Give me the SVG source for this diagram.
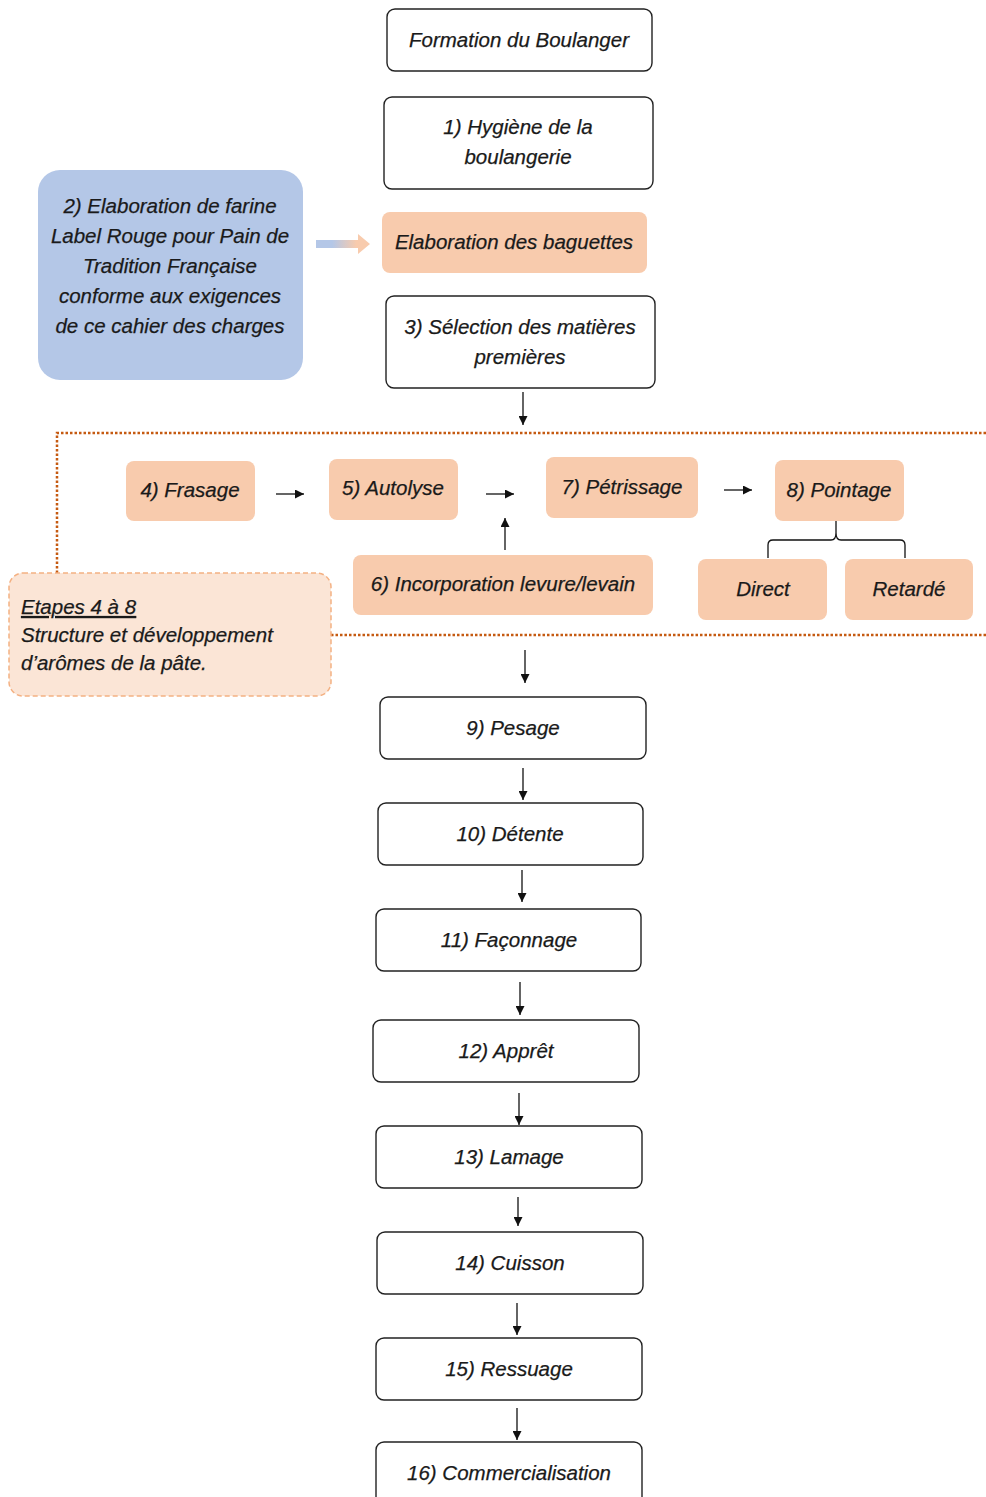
<svg xmlns="http://www.w3.org/2000/svg" width="986" height="1497" viewBox="0 0 986 1497">
<defs>
<style>
.t{font-family:"Liberation Sans",Arial,sans-serif;font-style:italic;font-size:20.5px;fill:#1a1a1a;text-anchor:middle;stroke:#1a1a1a;stroke-width:0.25}
.w{fill:#fff;stroke:#222;stroke-width:1.4}
.o{fill:#f8cbad;stroke:none}
.c{stroke:#111;stroke-width:1.3;fill:none}
.d{stroke:#c55a11;stroke-width:2.5;stroke-dasharray:2.5 2;fill:none}
</style>
<marker id="ah" viewBox="0 0 10 10" refX="10" refY="5" markerWidth="9" markerHeight="9" markerUnits="userSpaceOnUse" orient="auto"><path d="M0,0 L10,5 L0,10 z" fill="#111"/></marker>
<linearGradient id="g" x1="0" x2="1" y1="0" y2="0"><stop offset="0.3" stop-color="#b4c7e7"/><stop offset="0.75" stop-color="#f8cbad"/></linearGradient>
</defs>
<rect width="986" height="1497" fill="#fff"/>

<g id="frame">
<path class="d" d="M57,573 V433 H986"/>
<path class="d" d="M331,635 H986"/>
</g>

<g id="n0"><rect class="w" x="387" y="9" width="265" height="62" rx="8"/><text class="t" x="519" y="47">Formation du Boulanger</text></g>
<g id="n1"><rect class="w" x="384" y="97" width="269" height="92" rx="8"/><text class="t" x="518" y="134">1) Hygiène de la</text><text class="t" x="518" y="164">boulangerie</text></g>
<g id="n2"><rect x="38" y="170" width="265" height="210" rx="22" fill="#b4c7e7"/>
<text class="t" x="170" y="213">2) Elaboration de farine</text>
<text class="t" x="170" y="243">Label Rouge pour Pain de</text>
<text class="t" x="170" y="273">Tradition Française</text>
<text class="t" x="170" y="303">conforme aux exigences</text>
<text class="t" x="170" y="333">de ce cahier des charges</text></g>
<g id="nb"><rect class="o" x="382" y="212" width="265" height="61" rx="8"/><text class="t" x="514" y="249">Elaboration des baguettes</text></g>
<g id="n3"><rect class="w" x="386" y="296" width="269" height="92" rx="8"/><text class="t" x="520" y="334">3) Sélection des matières</text><text class="t" x="520" y="364">premières</text></g>
<g id="n4"><rect class="o" x="126" y="461" width="129" height="60" rx="8"/><text class="t" x="190" y="497">4) Frasage</text></g>
<g id="n5"><rect class="o" x="329" y="459" width="129" height="61" rx="8"/><text class="t" x="393" y="495">5) Autolyse</text></g>
<g id="n6"><rect class="o" x="353" y="555" width="300" height="60" rx="8"/><text class="t" x="503" y="591">6) Incorporation levure/levain</text></g>
<g id="n7"><rect class="o" x="546" y="457" width="152" height="61" rx="8"/><text class="t" x="622" y="494">7) Pétrissage</text></g>
<g id="n8"><rect class="o" x="775" y="460" width="129" height="61" rx="8"/><text class="t" x="839" y="497">8) Pointage</text></g>
<g id="nd"><rect class="o" x="698" y="559" width="129" height="61" rx="8"/><text class="t" x="763" y="596">Direct</text></g>
<g id="nr"><rect class="o" x="845" y="559" width="128" height="61" rx="8"/><text class="t" x="909" y="596">Retardé</text></g>
<g id="note"><rect x="9" y="573" width="322" height="123" rx="14" fill="#fbe5d6" stroke="#f4b183" stroke-width="1.5" stroke-dasharray="5 3"/>
<text class="t" x="21" y="614" style="text-anchor:start;text-decoration:underline">Etapes 4 à 8</text>
<text class="t" x="21" y="642" style="text-anchor:start">Structure et développement</text>
<text class="t" x="21" y="670" style="text-anchor:start">d’arômes de la pâte.</text></g>
<g id="n9"><rect class="w" x="380" y="697" width="266" height="62" rx="8"/><text class="t" x="513" y="735">9) Pesage</text></g>
<g id="n10"><rect class="w" x="378" y="803" width="265" height="62" rx="8"/><text class="t" x="510" y="841">10) Détente</text></g>
<g id="n11"><rect class="w" x="376" y="909" width="265" height="62" rx="8"/><text class="t" x="509" y="947">11) Façonnage</text></g>
<g id="n12"><rect class="w" x="373" y="1020" width="266" height="62" rx="8"/><text class="t" x="506" y="1058">12) Apprêt</text></g>
<g id="n13"><rect class="w" x="376" y="1126" width="266" height="62" rx="8"/><text class="t" x="509" y="1164">13) Lamage</text></g>
<g id="n14"><rect class="w" x="377" y="1232" width="266" height="62" rx="8"/><text class="t" x="510" y="1270">14) Cuisson</text></g>
<g id="n15"><rect class="w" x="376" y="1338" width="266" height="62" rx="8"/><text class="t" x="509" y="1376">15) Ressuage</text></g>
<g id="n16"><rect class="w" x="376" y="1442" width="266" height="70" rx="8"/><text class="t" x="509" y="1480">16) Commercialisation</text></g>

<g id="connectors">
<path d="M316,240 H358 V234 L370,244 L358,254 V248 H316 z" fill="url(#g)"/>
<line class="c" x1="523" y1="392" x2="523" y2="425" marker-end="url(#ah)"/>
<line class="c" x1="276" y1="494" x2="304" y2="494" marker-end="url(#ah)"/>
<line class="c" x1="486" y1="494" x2="514" y2="494" marker-end="url(#ah)"/>
<line class="c" x1="505" y1="550" x2="505" y2="518" marker-end="url(#ah)"/>
<line class="c" x1="724" y1="490" x2="752" y2="490" marker-end="url(#ah)"/>
<path class="c" d="M768,558 V545 Q768,540 773,540 H831 Q836,540 836,533 V521 M836,533 Q836,540 841,540 H900 Q905,540 905,545 V558"/>
<line class="c" x1="525" y1="650" x2="525" y2="683" marker-end="url(#ah)"/>
<line class="c" x1="523" y1="768" x2="523" y2="800" marker-end="url(#ah)"/>
<line class="c" x1="522" y1="870" x2="522" y2="902" marker-end="url(#ah)"/>
<line class="c" x1="520" y1="982" x2="520" y2="1015" marker-end="url(#ah)"/>
<line class="c" x1="519" y1="1093" x2="519" y2="1125" marker-end="url(#ah)"/>
<line class="c" x1="518" y1="1197" x2="518" y2="1226" marker-end="url(#ah)"/>
<line class="c" x1="517" y1="1303" x2="517" y2="1335" marker-end="url(#ah)"/>
<line class="c" x1="517" y1="1408" x2="517" y2="1440" marker-end="url(#ah)"/>
</g>
</svg>
